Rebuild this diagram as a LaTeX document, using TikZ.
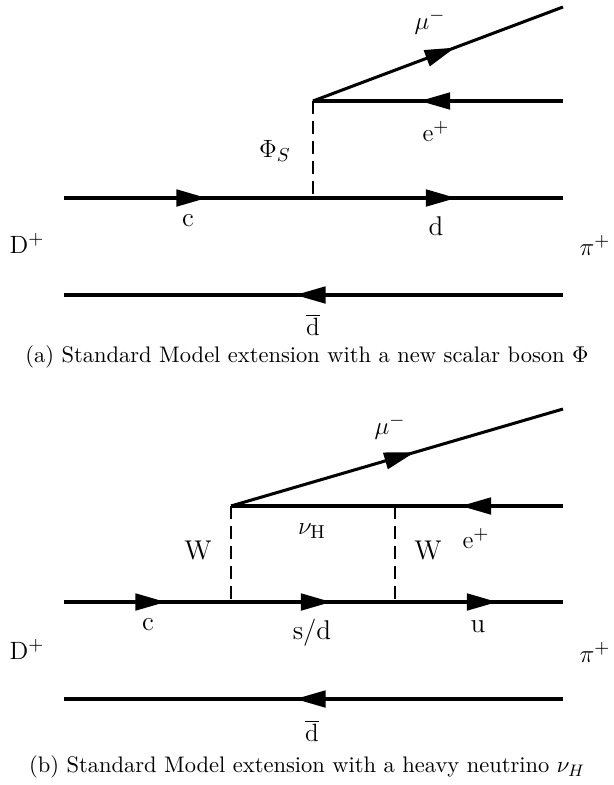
\documentclass[tikz,border=0pt]{standalone}
\usetikzlibrary{decorations.markings}
\begin{document}
\begin{tikzpicture}[x=0.48pt,y=-0.48pt,
  fermion/.style={line width=1.45pt},
  arr/.style={fermion,postaction={decorate},
    decoration={markings,mark=at position 0.5 with {\fill (-5.8pt,-4.2pt) -- (8.6pt,0pt) -- (-5.8pt,4.2pt) -- cycle;}}},
  scalar/.style={line width=1.3pt,dash pattern=on 6pt off 3.6pt},
  lbl/.style={inner sep=0pt,font=\fontsize{13}{15}\selectfont},
  captxt/.style={inner sep=0pt,font=\fontsize{10.8}{13}\selectfont}]
\useasboundingbox (0,0) rectangle (613,785);
% ---------- (a) ----------
\coordinate (a-A) at (64,198);
\coordinate (a-Q) at (313,198);
\coordinate (a-B) at (563,198);
\coordinate (a-V) at (313,101);
\coordinate (a-M) at (563,7);
\coordinate (a-E) at (563,101);
\coordinate (a-R) at (563,295);
\coordinate (a-L) at (64,295);
\draw[arr] (a-A) -- (a-Q);
\draw[arr] (a-Q) -- (a-B);
\draw[arr] (a-V) -- (a-M);
\draw[arr] (a-E) -- (a-V);
\draw[arr] (a-R) -- (a-L);
\draw[scalar] (a-V) -- (a-Q);
\node[lbl] (a-mu) at (430,22) {$\mu^-$};
\node[lbl] (a-e) at (436,131) {$\mathrm{e}^+$};
\node[lbl] (a-phi) at (275,151) {$\Phi_S$};
\node[lbl] (a-c) at (188,221) {c};
\node[lbl] (a-d) at (436,226) {d};
\node[lbl] (a-D) at (27,243) {$\mathrm{D}^+$};
\node[lbl] (a-pi) at (595,245) {$\pi^+$};
\node[lbl] (a-db) at (313,325) {$\overline{\mathrm{d}}$};
\node[captxt] (a-cap) at (307,357) {(a) Standard Model extension with a new scalar boson $\Phi$};
% ---------- (b) ----------
\coordinate (b-A) at (64,602);
\coordinate (b-Q1) at (231,602);
\coordinate (b-Q2) at (395,602);
\coordinate (b-B) at (563,602);
\coordinate (b-V) at (231,506);
\coordinate (b-W) at (395,506);
\coordinate (b-M) at (563,409);
\coordinate (b-E) at (563,506);
\coordinate (b-R) at (563,699);
\coordinate (b-L) at (64,699);
\draw[arr] (b-A) -- (b-Q1);
\draw[arr] (b-Q1) -- (b-Q2);
\draw[arr] (b-Q2) -- (b-B);
\draw[arr] (b-V) -- (b-M);
\draw[arr] (b-E) -- (b-W);
\draw[fermion] (b-W) -- (b-V);
\draw[arr] (b-R) -- (b-L);
\draw[scalar] (b-V) -- (b-Q1);
\draw[scalar] (b-W) -- (b-Q2);
\node[lbl] (b-mu) at (390,427) {$\mu^-$};
\node[lbl] (b-nu) at (312,531) {$\nu_{\mathrm{H}}$};
\node[lbl] (b-W1) at (198,551) {W};
\node[lbl] (b-W2) at (428,551) {W};
\node[lbl] (b-e) at (476,538) {$\mathrm{e}^+$};
\node[lbl] (b-c) at (148,625) {c};
\node[lbl] (b-sd) at (312,633) {s/d};
\node[lbl] (b-u) at (478,627) {u};
\node[lbl] (b-D) at (27,649) {$\mathrm{D}^+$};
\node[lbl] (b-pi) at (595,652) {$\pi^+$};
\node[lbl] (b-db) at (312,731) {$\overline{\mathrm{d}}$};
\node[captxt] (b-cap) at (307,767) {(b) Standard Model extension with a heavy neutrino $\nu_H$};
\end{tikzpicture}
\end{document}
